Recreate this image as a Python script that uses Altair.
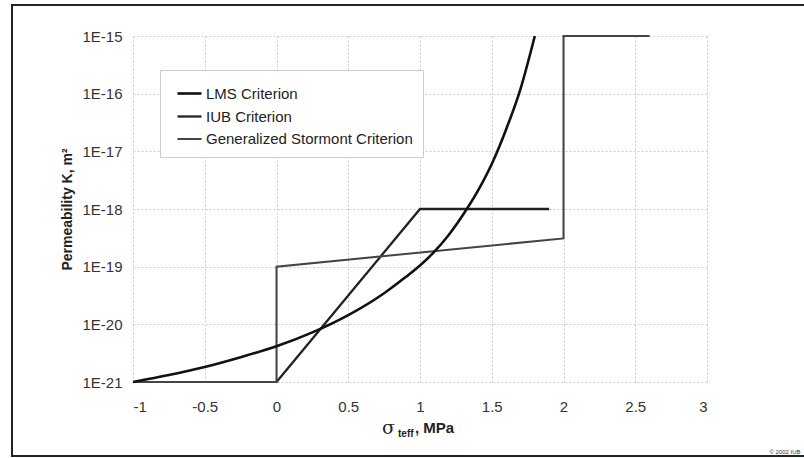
import altair as alt
import pandas as pd

# ---- data ----
series_names = ["LMS Criterion", "IUB Criterion", "Generalized Stormont Criterion"]

lms_sigma = [-1.0, -0.75, -0.5, -0.25, 0.0, 0.25, 0.5, 0.75, 0.9, 1.0, 1.1, 1.2, 1.3, 1.4, 1.5, 1.6, 1.7, 1.8]
lms_logk = [-21.0, -20.88, -20.74, -20.57, -20.38, -20.14, -19.84, -19.46, -19.18, -18.98, -18.74, -18.45, -18.10, -17.70, -17.22, -16.62, -15.92, -15.0]

iub_sigma = [0.0, 1.0, 1.9]
iub_logk = [-21.0, -18.0, -18.0]

gs_sigma = [-1.0, 0.0, 0.0, 2.0, 2.0, 2.6]
gs_logk = [-21.0, -21.0, -19.0, -18.51, -15.0, -15.0]

x_ticks = [-1, -0.5, 0, 0.5, 1, 1.5, 2, 2.5, 3]
y_ticks = [1e-21, 1e-20, 1e-19, 1e-18, 1e-17, 1e-16, 1e-15]

rows = []
for name, xs, ls in zip(series_names, [lms_sigma, iub_sigma, gs_sigma], [lms_logk, iub_logk, gs_logk]):
    for i, (x, l) in enumerate(zip(xs, ls)):
        rows.append({"series": name, "sigma": x, "K": 10.0 ** l, "order": i})
df = pd.DataFrame(rows)

FONT = "Liberation Sans"

legend = alt.Legend(title=None, orient="none", legendX=27, legendY=34,
                    symbolType="stroke", symbolSize=576,
                    symbolOffset=6, labelOffset=3,
                    labelFontSize=15, labelFont=FONT, labelColor="#222",
                    rowPadding=1, padding=10,
                    strokeColor="#cccccc", fillColor="white",
                    labelLimit=400)

x_enc = alt.X("sigma:Q",
              scale=alt.Scale(domain=[-1, 3], nice=False, zero=False),
              axis=alt.Axis(values=x_ticks, labelExpr="'' + datum.value", title=None,
                            labelPadding=17))
y_enc = alt.Y("K:Q",
              scale=alt.Scale(type="log", domain=[1e-21, 1e-15], nice=False),
              axis=alt.Axis(values=y_ticks,
                            labelExpr="'1E' + round(log(datum.value)/LN10)",
                            title="Permeability K, m²", titleAngle=-90,
                            titleX=-66, titleY=173, titleAlign="center",
                            titleBaseline="middle", titleFontSize=14,
                            titleFontWeight="bold", titleColor="#222",
                            labelPadding=11))
c_enc = alt.Color("series:N",
                  scale=alt.Scale(domain=series_names, range=["#111111", "#222222", "#444444"]),
                  legend=legend)
w_enc = alt.StrokeWidth("series:N",
                        scale=alt.Scale(domain=series_names, range=[2.6, 2.0, 1.4]),
                        legend=legend)

base = alt.Chart(df)

lms_line = base.transform_filter(alt.datum.series == series_names[0]).mark_line(
    interpolate="monotone", strokeCap="butt"
).encode(x=x_enc, y=y_enc, color=c_enc, strokeWidth=w_enc, order="order:Q")

other_lines = base.transform_filter(alt.datum.series != series_names[0]).mark_line(
    strokeCap="butt", strokeJoin="miter"
).encode(x=x_enc, y=y_enc, color=c_enc, strokeWidth=w_enc, order="order:Q", detail="series:N")

frame = alt.Chart(pd.DataFrame({"a": [0]})).mark_rect(fill=None, stroke="#222", strokeWidth=2).encode(
    x=alt.value(-121), x2=alt.value(680), y=alt.value(-31), y2=alt.value(420)
)

sig = alt.Chart(pd.DataFrame({"t": ["σ"]})).mark_text(
    align="left", baseline="alphabetic", fontSize=19, font="DejaVu Serif", color="#222"
).encode(text="t:N", x=alt.value(249), y=alt.value(398))

sub = alt.Chart(pd.DataFrame({"t": ["teff"]})).mark_text(
    align="left", baseline="alphabetic", fontSize=10, font=FONT, fontWeight="bold", color="#222"
).encode(text="t:N", x=alt.value(265), y=alt.value(401))

unit = alt.Chart(pd.DataFrame({"t": [", MPa"]})).mark_text(
    align="left", baseline="alphabetic", fontSize=15, font=FONT, fontWeight="bold", color="#222"
).encode(text="t:N", x=alt.value(282), y=alt.value(397))

copy = alt.Chart(pd.DataFrame({"t": ["© 2002 IUB"]})).mark_text(
    align="center", baseline="alphabetic", fontSize=6, font=FONT, color="#333"
).encode(text="t:N", x=alt.value(652), y=alt.value(418))

chart = alt.layer(frame, other_lines, lms_line, sig, sub, unit, copy).properties(
    width=574, height=346,
    autosize=alt.AutoSizeParams(type="none"),
    padding={"left": 133, "top": 36, "right": 97, "bottom": 76},
    background="white",
).configure_view(stroke=None).configure_axis(
    domain=False, ticks=False, grid=True, gridColor="#cccccc", gridDash=[2, 2], gridWidth=1,
    labelFont=FONT, labelFontSize=15, labelColor="#333", titleFont=FONT,
)

chart.save("out.html", embed_options={"renderer": "svg", "actions": False})
